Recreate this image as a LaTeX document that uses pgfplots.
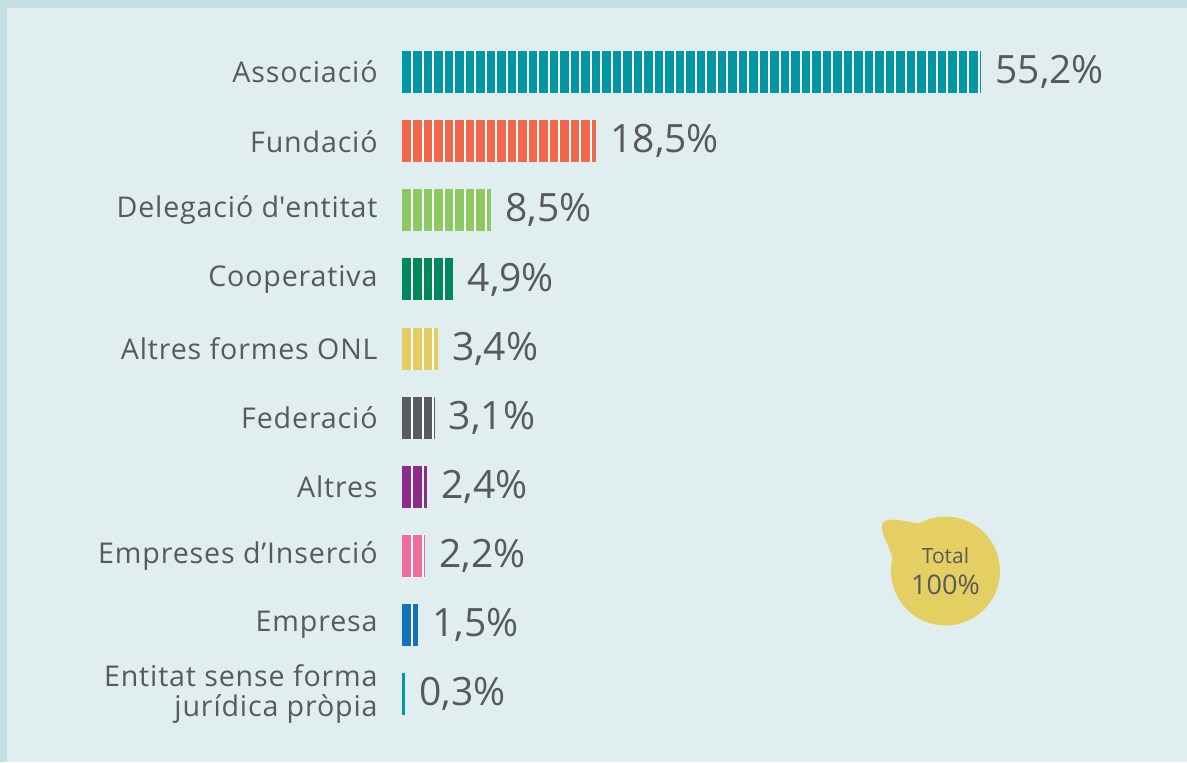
\documentclass[border=0pt]{standalone}
\usepackage{fontspec}
\setmainfont{Open Sans}
\usepackage{pgfplots}
\pgfplotsset{compat=1.18}
\definecolor{bg}{HTML}{E0EEEF}
\definecolor{brd}{HTML}{C5DFE3}
\definecolor{txt}{HTML}{58595B}
\definecolor{cA}{HTML}{0096A4}
\definecolor{cB}{HTML}{F2674B}
\definecolor{cC}{HTML}{8DC963}
\definecolor{cD}{HTML}{00875A}
\definecolor{cE}{HTML}{E5CC62}
\definecolor{cF}{HTML}{585C5E}
\definecolor{cG}{HTML}{8E2A8A}
\definecolor{cH}{HTML}{EE6E9A}
\definecolor{cI}{HTML}{1272BA}
\definecolor{bub}{HTML}{E5CF62}
\begin{document}
\begin{tikzpicture}[x=1pt,y=1pt]
\useasboundingbox (0,0) rectangle (593.5,381);
\fill[bg] (0,0) rectangle (593.5,381);
\fill[brd] (0,377) rectangle (593.5,381);
\fill[brd] (0,0) rectangle (3.5,381);
% bubble
\fill[bub] (472.75,95.5) circle (27.25);
\fill[bub] (447,100) .. controls (444,110) and (438,118) .. (442.5,120.5) .. controls (447,122.5) and (455,119.5) .. (462,119) -- (472.75,95.5) -- cycle;
\node[text=txt, anchor=base, inner sep=0pt, font=\fontsize{10.5}{12}\selectfont] at (472.75,99.5) {Total};
\node[text=txt, anchor=base, inner sep=0pt, font=\fontsize{13.5}{15}\selectfont] at (472.75,84) {100\%};
\begin{axis}[
  at={(201pt,16.7pt)}, anchor=south west, scale only axis,
  width=367.15pt, height=345.5pt,
  xmin=0, xmax=70, ymin=0.5, ymax=10.5,
  axis line style={draw=none}, tick style={draw=none},
  major tick length=0pt,
  xtick=\empty,
  ytick={1,...,10},
  yticklabels={{Entitat sense forma\\jurídica pròpia},Empresa,Empreses d’Inserció,Altres,Federació,Altres formes ONL,Cooperativa,Delegació d\textquotesingle entitat,Fundació,Associació},
  yticklabel style={inner sep=0pt, xshift=-12pt, align=right, text=txt, font=\fontsize{14.3}{15}\selectfont\addfontfeatures{LetterSpace=3}},
  clip=false,
  bar width=21pt,
  point meta=explicit symbolic,
  every node near coord/.append style={anchor=west, inner sep=0pt, xshift=7pt, text=txt, font=\fontsize{19.5}{22}\selectfont},
]
\addplot[xbar, fill=cA, draw=none, nodes near coords] coordinates {(55.2,10) [55,2\%]};
\addplot[xbar, fill=cB, draw=none, nodes near coords] coordinates {(18.5,9) [18,5\%]};
\addplot[xbar, fill=cC, draw=none, nodes near coords] coordinates {(8.5,8) [8,5\%]};
\addplot[xbar, fill=cD, draw=none, nodes near coords] coordinates {(4.9,7) [4,9\%]};
\addplot[xbar, fill=cE, draw=none, nodes near coords] coordinates {(3.4,6) [3,4\%]};
\addplot[xbar, fill=cF, draw=none, nodes near coords] coordinates {(3.1,5) [3,1\%]};
\addplot[xbar, fill=cG, draw=none, nodes near coords] coordinates {(2.4,4) [2,4\%]};
\addplot[xbar, fill=cH, draw=none, nodes near coords] coordinates {(2.2,3) [2,2\%]};
\addplot[xbar, fill=cI, draw=none, nodes near coords] coordinates {(1.5,2) [1,5\%]};
\addplot[xbar, fill=cA, draw=none, nodes near coords] coordinates {(0.3,1) [0,3\%]};
% white stripes, one per percentage unit
\pgfplotsinvokeforeach{1,...,55}{\addplot[white, line width=1pt, point meta=none] coordinates {(#1,9.696) (#1,10.304)};}
\pgfplotsinvokeforeach{1,...,18}{\addplot[white, line width=1pt, point meta=none] coordinates {(#1,8.696) (#1,9.304)};}
\pgfplotsinvokeforeach{1,...,8}{\addplot[white, line width=1pt, point meta=none] coordinates {(#1,7.696) (#1,8.304)};}
\pgfplotsinvokeforeach{1,...,4}{\addplot[white, line width=1pt, point meta=none] coordinates {(#1,6.696) (#1,7.304)};}
\pgfplotsinvokeforeach{1,...,3}{\addplot[white, line width=1pt, point meta=none] coordinates {(#1,5.696) (#1,6.304)};}
\pgfplotsinvokeforeach{1,...,3}{\addplot[white, line width=1pt, point meta=none] coordinates {(#1,4.696) (#1,5.304)};}
\pgfplotsinvokeforeach{1,...,2}{\addplot[white, line width=1pt, point meta=none] coordinates {(#1,3.696) (#1,4.304)};}
\pgfplotsinvokeforeach{1,...,2}{\addplot[white, line width=1pt, point meta=none] coordinates {(#1,2.696) (#1,3.304)};}
\addplot[white, line width=1pt, point meta=none] coordinates {(1,1.696) (1,2.304)};
\end{axis}
\end{tikzpicture}
\end{document}
